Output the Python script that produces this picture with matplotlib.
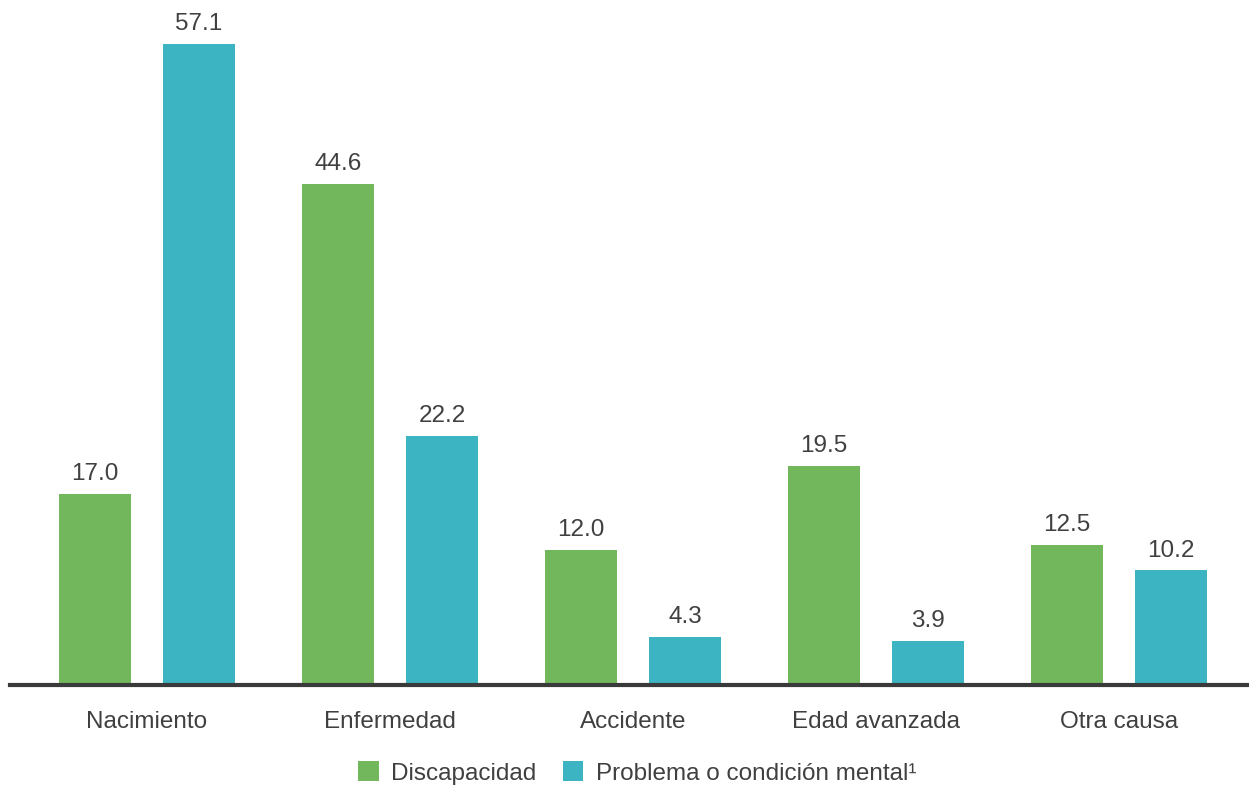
import numpy as np
import matplotlib.pyplot as plt

plt.rcParams['font.family'] = ['Liberation Sans', 'DejaVu Sans']

categorias = ['Nacimiento', 'Enfermedad', 'Accidente', 'Edad avanzada', 'Otra causa']
discapacidad = [17.0, 44.6, 12.0, 19.5, 12.5]
mental = [57.1, 22.2, 4.3, 3.9, 10.2]
series = ['Discapacidad', 'Problema o condición mental¹']

VERDE = '#72b75b'
AZUL = '#3cb4c2'
TXT = '#404040'

fig = plt.figure(figsize=(12.49, 7.87), dpi=100)
ax = fig.add_axes([10/1249, 102/787, 1 - 10/1249, (685 - 11.4)/787])

x = np.arange(len(categorias))
w = 0.30
off = 0.214
b1 = ax.bar(x - off, discapacidad, w, color=VERDE, label=series[0])
b2 = ax.bar(x + off, mental, w, color=AZUL, label=series[1])

for bars, vals in ((b1, discapacidad), (b2, mental)):
    for r, v in zip(bars, vals):
        ax.text(r.get_x() + r.get_width()/2, v + 0.8, f'{v:.1f}',
                ha='center', va='bottom', fontsize=17.5, color=TXT)

ax.set_xlim(-0.564, 4.535)
ax.set_ylim(0, 60)
ax.set_xticks(x)
ax.set_xticklabels(categorias, fontsize=17.5, color=TXT)
ax.tick_params(axis='x', length=0, pad=19)
ax.set_yticks([])
for s in ('top', 'right', 'left'):
    ax.spines[s].set_visible(False)
ax.spines['bottom'].set_linewidth(3)
ax.spines['bottom'].set_color('#3a3a3a')

leg = fig.legend(loc='center', bbox_to_anchor=(637/1249, 1 - 773/787), ncol=2,
                 frameon=False, fontsize=17.5, handlelength=0.85, handleheight=0.85,
                 handletextpad=0.5, columnspacing=1.1)
for t in leg.get_texts():
    t.set_color(TXT)

fig.savefig('out.png', dpi=100)
